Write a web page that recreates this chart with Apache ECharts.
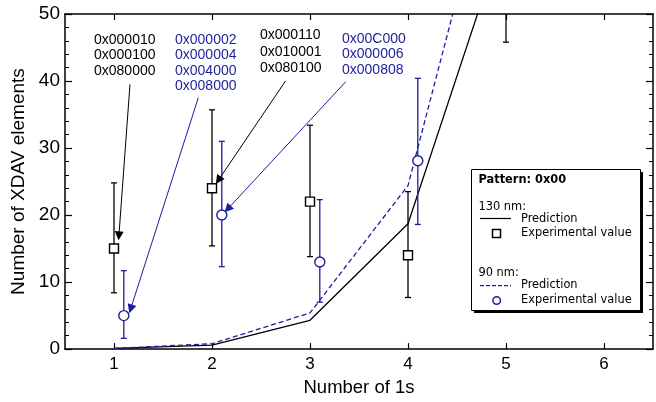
<!DOCTYPE html>
<html><head><meta charset="utf-8">
<script src="https://cdn.jsdelivr.net/npm/echarts@6/dist/echarts.min.js"></script>
<style>html,body{margin:0;padding:0;background:#fff}#c{width:656px;height:402px}</style>
</head><body><div id="c"></div>
<script>
// ---- data ----
const xTicks = [1, 2, 3, 4, 5, 6];
const predX = [1, 2, 3, 4, 5];
const pred130Y = [0.1, 0.6, 4.3, 18.7, 62.8];
const pred90Y = [0.1, 0.8, 5.4, 24.4, 80.5];
const exp130X = [1, 2, 3, 4, 5];
const exp130Y = [15, 24, 22, 14, 56];
const exp130Lo = [8.4, 15.4, 13.8, 7.7, 45.8];
const exp130Hi = [24.8, 35.7, 33.4, 23.5, 66];
const exp90X = [1.1, 2.1, 3.1, 4.1];
const exp90Y = [5, 20, 13, 28.1];
const exp90Lo = [1.6, 12.3, 7.0, 18.6];
const exp90Hi = [11.7, 31.0, 22.3, 40.4];
const annot130a = ['0x000010', '0x000100', '0x080000'];
const annot90a = ['0x000002', '0x000004', '0x004000', '0x008000'];
const annot130b = ['0x000110', '0x010001', '0x080100'];
const annot90b = ['0x00C000', '0x000006', '0x000808'];
const arrows130 = [[[1.163, 39.5], [1.05, 16.9]], [[2.75, 40.0], [2.065, 25.2]]];
const arrows90 = [[[1.86, 37.5], [1.17, 6.0]], [[3.365, 39.9], [2.16, 20.9]]];

const BLUE = '#1e1e9c';
const BLACK = '#000';
const FONT = '"Liberation Sans", Arial, sans-serif';
const LFONT = '"DejaVu Sans", sans-serif';

function errBar(color) {
  return function (params, api) {
    const x = api.value(0), lo = api.value(1), hi = api.value(2);
    const a = api.coord([x, lo]), b = api.coord([x, hi]);
    const w = 3;
    const st = { stroke: color, lineWidth: 1.3 };
    return { type: 'group', children: [
      { type: 'line', shape: { x1: a[0], y1: a[1], x2: b[0], y2: b[1] }, style: st },
      { type: 'line', shape: { x1: a[0] - w, y1: a[1], x2: a[0] + w, y2: a[1] }, style: st },
      { type: 'line', shape: { x1: b[0] - w, y1: b[1], x2: b[0] + w, y2: b[1] }, style: st }
    ] };
  };
}
function arrowLines(arr) {
  return arr.map(p => [{ coord: p[0] }, { coord: p[1] }]);
}

const chart = echarts.init(document.getElementById('c'), null, { renderer: 'canvas' });
const axisLineStyle = { color: '#000', width: 1.5 };
const LF = '11.4px ' + LFONT;
const option = {
  animation: false,
  backgroundColor: '#fff',
  grid: { left: 65, right: 3, top: 14, bottom: 49, containLabel: false },
  xAxis: [
    { type: 'value', min: 0.5, max: 6.5, position: 'bottom',
      axisLine: { show: true, onZero: false, lineStyle: axisLineStyle },
      axisTick: { show: true, inside: true, length: 6, customValues: xTicks, lineStyle: { color: '#000', width: 1.2 } },
      axisLabel: { show: true, customValues: xTicks, color: '#000', fontSize: 17, fontFamily: FONT, margin: 7 },
      splitLine: { show: false },
      name: 'Number of 1s', nameLocation: 'middle', nameGap: 27,
      nameTextStyle: { color: '#000', fontSize: 18.5, fontFamily: FONT } },
    { type: 'value', min: 0.5, max: 6.5, position: 'top',
      axisLine: { show: true, onZero: false, lineStyle: axisLineStyle },
      axisTick: { show: true, inside: true, length: 6, customValues: xTicks, lineStyle: { color: '#000', width: 1.2 } },
      axisLabel: { show: false }, splitLine: { show: false } }
  ],
  yAxis: [
    { type: 'value', min: 0, max: 50, interval: 10, position: 'left',
      axisLine: { show: true, onZero: false, lineStyle: axisLineStyle },
      axisTick: { show: true, inside: true, length: 7, lineStyle: { color: '#000', width: 1.2 } },
      minorTick: { show: true, splitNumber: 5, length: 4, lineStyle: { color: '#000', width: 1 } },
      axisLabel: { color: '#000', fontSize: 19, fontFamily: FONT, margin: 5 },
      splitLine: { show: false },
      name: 'Number of XDAV elements', nameLocation: 'middle', nameGap: 30,
      nameTextStyle: { color: '#000', fontSize: 19, fontFamily: FONT } },
    { type: 'value', min: 0, max: 50, interval: 10, position: 'right',
      axisLine: { show: true, onZero: false, lineStyle: axisLineStyle },
      axisTick: { show: true, inside: true, length: 7, lineStyle: { color: '#000', width: 1.2 } },
      minorTick: { show: true, splitNumber: 5, length: 4, lineStyle: { color: '#000', width: 1 } },
      axisLabel: { show: false }, splitLine: { show: false } }
  ],
  series: [
    { type: 'line', name: '130 nm Prediction', data: predX.map((x, i) => [x, pred130Y[i]]),
      symbol: 'none', clip: true, lineStyle: { color: BLACK, width: 1.3 }, z: 3 },
    { type: 'line', name: '90 nm Prediction', data: predX.map((x, i) => [x, pred90Y[i]]),
      symbol: 'none', clip: true, lineStyle: { color: BLUE, width: 1.3, type: [5, 3] }, z: 3 },
    { type: 'custom', name: '130 err', renderItem: errBar(BLACK), clip: true,
      encode: { x: 0, y: [1, 2] }, data: exp130X.map((x, i) => [x, exp130Lo[i], exp130Hi[i]]), z: 4 },
    { type: 'custom', name: '90 err', renderItem: errBar(BLUE), clip: true,
      encode: { x: 0, y: [1, 2] }, data: exp90X.map((x, i) => [x, exp90Lo[i], exp90Hi[i]]), z: 4 },
    { type: 'scatter', name: '130 exp', data: exp130X.map((x, i) => [x, exp130Y[i]]), clip: true,
      symbol: 'rect', symbolSize: 9,
      itemStyle: { color: '#fff', borderColor: BLACK, borderWidth: 1.4, opacity: 1 }, z: 5,
      markLine: { silent: true, symbol: ['none', 'triangle'], symbolSize: 9, animation: false,
        label: { show: false }, lineStyle: { color: BLACK, width: 1, type: 'solid' },
        data: arrowLines(arrows130) } },
    { type: 'scatter', name: '90 exp', data: exp90X.map((x, i) => [x, exp90Y[i]]), clip: true,
      symbol: 'circle', symbolSize: 10,
      itemStyle: { color: '#fff', borderColor: BLUE, borderWidth: 1.4, opacity: 1 }, z: 5,
      markLine: { silent: true, symbol: ['none', 'triangle'], symbolSize: 9, animation: false,
        label: { show: false }, lineStyle: { color: BLUE, width: 1, type: 'solid' },
        data: arrowLines(arrows90) } }
  ],
  graphic: [
    { type: 'text', left: 94, top: 32, z: 10, style: { text: annot130a.join('\n'), fill: '#000', font: '14px ' + FONT, lineHeight: 15.6 } },
    { type: 'text', left: 175, top: 32, z: 10, style: { text: annot90a.join('\n'), fill: BLUE, font: '14px ' + FONT, lineHeight: 15.6 } },
    { type: 'text', left: 260, top: 27, z: 10, style: { text: annot130b.join('\n'), fill: '#000', font: '14px ' + FONT, lineHeight: 16.5 } },
    { type: 'text', left: 342, top: 31, z: 10, style: { text: annot90b.join('\n'), fill: BLUE, font: '14px ' + FONT, lineHeight: 15.5 } },
    // legend box
    { type: 'rect', shape: { x: 474, y: 172, width: 169, height: 141 }, style: { fill: '#000' }, z: 20 },
    { type: 'rect', shape: { x: 471.5, y: 169.5, width: 169, height: 141 }, style: { fill: '#fff', stroke: '#000', lineWidth: 1 }, z: 21 },
    { type: 'text', x: 478.5, y: 180, z: 22, style: { text: 'Pattern: 0x00', fill: '#000', font: 'bold 11.4px ' + LFONT, verticalAlign: 'middle' } },
    { type: 'text', x: 478.5, y: 207.5, z: 22, style: { text: '130 nm:', fill: '#000', font: LF, verticalAlign: 'middle' } },
    { type: 'line', shape: { x1: 480, y1: 218.5, x2: 511, y2: 218.5 }, style: { stroke: BLACK, lineWidth: 1.2 }, z: 22 },
    { type: 'text', x: 521, y: 219, z: 22, style: { text: 'Prediction', fill: '#000', font: LF, verticalAlign: 'middle' } },
    { type: 'rect', shape: { x: 492.5, y: 229.5, width: 8, height: 8 }, style: { fill: '#fff', stroke: BLACK, lineWidth: 1.5 }, z: 22 },
    { type: 'text', x: 521, y: 233.3, z: 22, style: { text: 'Experimental value', fill: '#000', font: LF, verticalAlign: 'middle' } },
    { type: 'text', x: 478.5, y: 273.3, z: 22, style: { text: '90 nm:', fill: '#000', font: LF, verticalAlign: 'middle' } },
    { type: 'line', shape: { x1: 480, y1: 285.7, x2: 511, y2: 285.7 }, style: { stroke: BLUE, lineWidth: 1.2, lineDash: [4, 2] }, z: 22 },
    { type: 'text', x: 521, y: 285, z: 22, style: { text: 'Prediction', fill: '#000', font: LF, verticalAlign: 'middle' } },
    { type: 'circle', shape: { cx: 496.7, cy: 300.5, r: 3.8 }, style: { fill: '#fff', stroke: BLUE, lineWidth: 1.5 }, z: 22 },
    { type: 'text', x: 521, y: 300, z: 22, style: { text: 'Experimental value', fill: '#000', font: LF, verticalAlign: 'middle' } }
  ]
};
chart.setOption(option);
</script>
</body></html>
